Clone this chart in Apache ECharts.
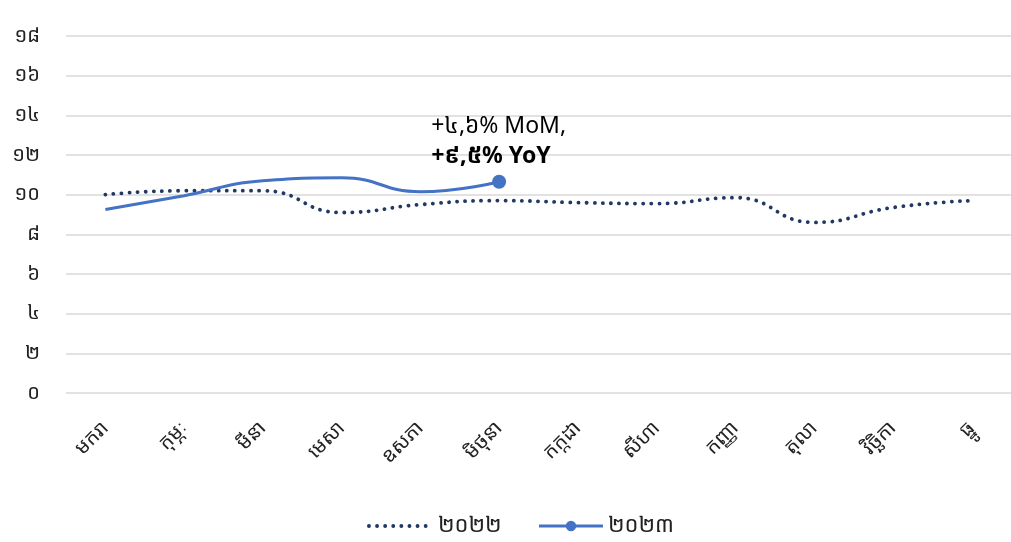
<!DOCTYPE html>
<html><head><meta charset="utf-8">
<script src="https://cdn.jsdelivr.net/npm/echarts@6/dist/echarts.min.js"></script>
<style>html,body{margin:0;padding:0;background:#fff}#c{width:1011px;height:542px}</style>
</head><body><div id="c"></div>
<script>
const months = ['មករា','កុម្ភៈ','មីនា','មេសា','ឧសភា','មិថុនា','កក្កដា','សីហា','កញ្ញា','តុលា','វិច្ឆិកា','ធ្នូ'];
const yTickLabels = ['០','២','៤','៦','៨','១០','១២','១៤','១៦','១៨'];
const values2022 = [10.0, 10.2, 10.2, 9.1, 9.5, 9.7, 9.6, 9.55, 9.85, 8.6, 9.35, 9.7];
const values2023 = [9.25, 9.95, 10.7, 10.85, 10.15, 10.65];
const seriesNames = ['២០២២','២០២៣'];
const annotationLines = ['+៤,៦% MoM,', '+៩,៥% YoY'];

const FONT = "'Noto Sans Khmer','Khmer OS','Noto Sans',sans-serif";
const chart = echarts.init(document.getElementById('c'));
chart.setOption({
  animation:false,
  textStyle:{fontFamily:FONT},
  grid:{left:66, right:0, top:36, bottom:149},
  legend:{
    bottom:0, left:362, itemWidth:64, itemHeight:13, itemGap:36,
    textStyle:{fontSize:22, color:'#222', fontFamily:FONT},
    data:[
      {name:seriesNames[0], itemStyle:{opacity:0}, lineStyle:{width:3.8, type:[0.1,8], cap:'round', color:'#203864'}},
      {name:seriesNames[1], lineStyle:{width:3, color:'#4472C4'}}
    ]
  },
  xAxis:{
    type:'category', data:months, boundaryGap:true,
    axisLine:{show:false}, axisTick:{show:false},
    axisLabel:{rotate:45, fontSize:20, color:'#222', margin:32, interval:0, fontFamily:FONT}
  },
  yAxis:{
    type:'value', min:0, max:18, interval:2,
    axisLine:{show:false}, axisTick:{show:false},
    splitLine:{lineStyle:{color:'#d9d9d9', width:1.5}},
    axisLabel:{fontSize:20, color:'#222', margin:26, fontFamily:FONT,
      formatter:(v)=>yTickLabels[Math.round(v/2)]}
  },
  series:[
    {
      name:seriesNames[0], type:'line', data:values2022, smooth:0.5,
      symbol:'none',
      lineStyle:{color:'#203864', width:3.8, type:[0.1,8], cap:'round'},
      itemStyle:{color:'#203864'}
    },
    {
      name:seriesNames[1], type:'line', data:values2023, smooth:0.5,
      symbol:'circle',
      symbolSize:(v,p)=> p.dataIndex===values2023.length-1 ? 14 : 0,
      lineStyle:{color:'#4472C4', width:3},
      itemStyle:{color:'#4472C4'},
      markPoint:{
        symbol:'circle', symbolSize:1, itemStyle:{color:'rgba(0,0,0,0)'},
        data:[{coord:[values2023.length-1, values2023[values2023.length-1]]}],
        label:{
          show:true, position:'inside', align:'left', verticalAlign:'bottom',
          offset:[-68,-10],
          formatter:()=>'{a|'+annotationLines[0]+'}\n{b|'+annotationLines[1]+'}',
          rich:{
            a:{fontSize:23, color:'#000', lineHeight:30, fontFamily:FONT},
            b:{fontSize:23, color:'#000', fontWeight:'bold', lineHeight:30, fontFamily:FONT}
          }
        }
      }
    }
  ]
});
</script></body></html>
